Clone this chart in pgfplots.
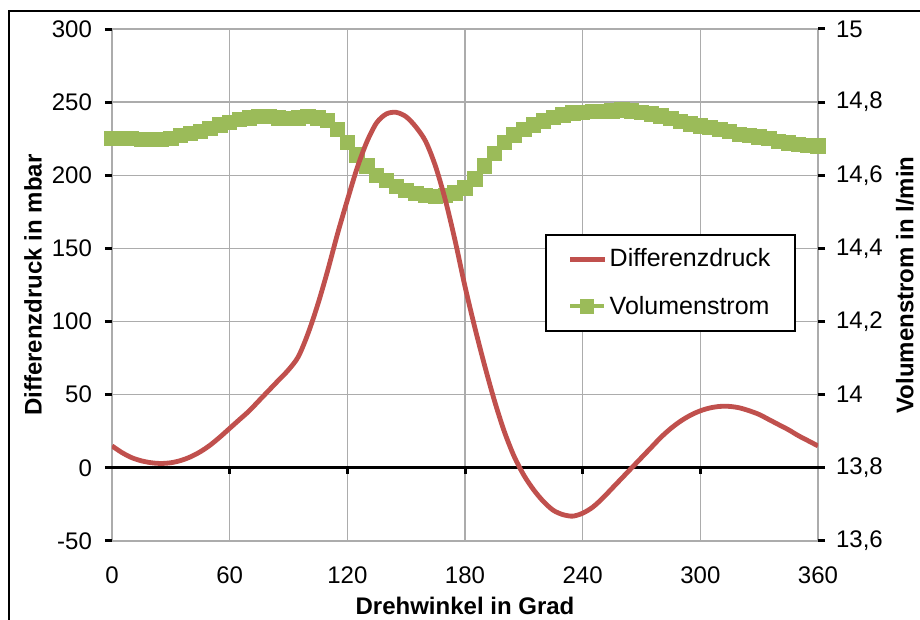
\documentclass[border=0pt]{standalone}
\usepackage{fontspec}
\setmainfont{Liberation Sans}
\usepackage{pgfplots}
\pgfplotsset{compat=1.18}
\definecolor{druck}{RGB}{192,80,77}
\definecolor{vol}{RGB}{155,187,89}
\pgfplotsset{
  /pgf/number format/assume math mode=true,
  tick label style={font=\fontsize{12}{14}\selectfont},
  label style={font=\fontsize{12}{14}\selectfont\bfseries},
  every axis/.append style={scale only axis, width=353pt, height=256pt,
    at={(0,0)}, anchor=south west, xmin=0, xmax=360,
    y axis line style={black, line width=1.5pt},
    x axis line style={draw=none},
    tick align=outside, major tick length=3.5pt,
    y tick style={black, line width=1.5pt}}}

\begin{document}
\begin{tikzpicture}
\useasboundingbox (-56pt,-39.5pt) rectangle (404pt,270.5pt);
\draw[line width=1pt] (-51.5pt,-45pt) -- (-51.5pt,265pt) -- (410pt,265pt);

% Volumenstrom (rechte Achse), mit Gitter
\begin{axis}[
  ymin=13.6, ymax=15, ytick={13.6,13.8,...,15.01},
  ytick pos=right, yticklabel pos=right,
  yticklabel style={/pgf/number format/use comma, /pgf/number format/fixed, xshift=2pt},
  xtick={0,60,...,360}, x tick style={draw=none},
  xticklabel style={yshift=-6pt},
  grid=major, grid style={gray!65, line width=0.7pt},
  xlabel={Drehwinkel in Grad},
  xlabel style={at={(axis description cs:0.5,-0.127)}, anchor=center},
  ylabel={Volumenstrom in l/min},
  ylabel style={at={(axis description cs:1.123,0.5)}, anchor=center},
]
\addplot[vol, line width=2pt, mark=square*, mark size=3.6pt,
  mark options={fill=vol, draw=vol, line width=0pt}] coordinates {
 (0,14.700) (5,14.700) (10,14.700) (15,14.698) (20,14.698) (25,14.698)
 (30,14.700) (35,14.708) (40,14.715) (45,14.720) (50,14.728) (55,14.738)
 (60,14.745) (65,14.752) (70,14.757) (75,14.760) (80,14.760) (85,14.757)
 (90,14.755) (95,14.757) (100,14.760) (105,14.757) (110,14.750) (115,14.725)
 (120,14.690) (125,14.655) (130,14.625) (135,14.600) (140,14.585) (145,14.570)
 (150,14.558) (155,14.550) (160,14.545) (165,14.542) (170,14.545) (175,14.552)
 (180,14.565) (185,14.590) (190,14.625) (195,14.660) (200,14.690) (205,14.710)
 (210,14.725) (215,14.738) (220,14.748) (225,14.758) (230,14.765) (235,14.770)
 (240,14.772) (245,14.774) (250,14.775) (255,14.776) (260,14.778) (265,14.776)
 (270,14.772) (275,14.768) (280,14.762) (285,14.755) (290,14.747) (295,14.740)
 (300,14.735) (305,14.730) (310,14.725) (315,14.720) (320,14.712) (325,14.708)
 (330,14.705) (335,14.700) (340,14.693) (345,14.688) (350,14.684) (355,14.682)
 (360,14.680)};
\end{axis}

% Differenzdruck (linke Achse)
\begin{axis}[
  ymin=-50, ymax=300, ytick={-50,0,...,300},
  ytick pos=left, yticklabel pos=left,
  yticklabel style={xshift=-3pt},
  xtick=\empty,
  ylabel={Differenzdruck in mbar},
  ylabel style={at={(axis description cs:-0.112,0.5)}, anchor=center},
  legend style={at={(axis description cs:0.613,0.600)}, anchor=north west,
    draw=black, line width=1pt, font=\fontsize{12.5}{14}\selectfont,
    inner xsep=11pt, inner ysep=5pt, row sep=9pt,
    nodes={inner xsep=1.5pt}},
  legend cell align=left,
]
\draw[black, line width=1.5pt] (axis cs:0,0) -- (axis cs:360,0);
\pgfplotsinvokeforeach{60,120,180,240,300}{
  \draw[black, line width=1.5pt] (axis cs:#1,0) -- ([yshift=-3pt]axis cs:#1,0);}
\addplot[druck, line width=2.4pt, smooth] coordinates {
 (0,15) (5,10.5) (10,7) (15,4.8) (20,3.5) (25,3) (30,3.5) (35,5) (40,7.5)
 (45,11) (50,15.5) (55,21) (60,27) (65,33) (70,39) (75,46) (80,53) (85,60)
 (90,67) (95,76) (100,92) (105,112) (110,135) (115,160) (120,183) (125,205)
 (130,223) (135,236) (140,242) (145,243) (150,240) (155,233) (160,223)
 (165,206) (170,183) (175,155) (180,124) (185,96) (190,70) (195,46) (200,25)
 (205,8) (210,-5) (215,-15) (220,-23) (225,-29) (230,-32) (235,-33) (240,-31)
 (245,-27) (250,-21) (255,-14) (260,-7) (265,0) (270,7) (275,14) (280,21)
 (285,27) (290,32) (295,36) (300,39) (305,41) (310,42) (315,42) (320,41)
 (325,39) (330,36.5) (335,33) (340,29.5) (345,26) (350,22) (355,18.5) (360,15)};
\addlegendentry{Differenzdruck}
\addlegendimage{vol, line width=2pt, mark=square*, mark size=3.3pt,
  mark options={fill=vol, draw=vol, line width=0pt}}
\addlegendentry{Volumenstrom}
\end{axis}
\end{tikzpicture}
\end{document}
